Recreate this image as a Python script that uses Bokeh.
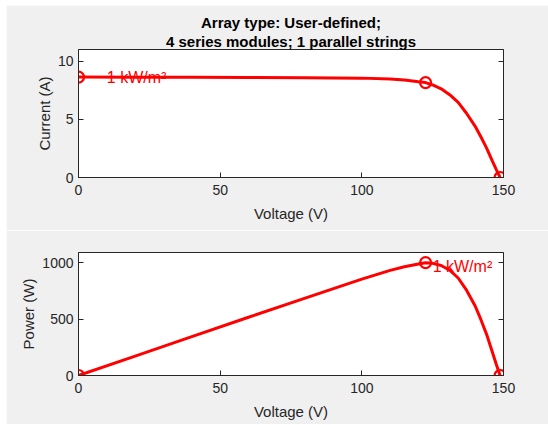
from bokeh.plotting import figure
from bokeh.layouts import column
from bokeh.models import LinearAxis, FixedTicker, Range1d, CustomJSTickFormatter, Title
from bokeh.core.properties import value
from bokeh.embed import file_html
from bokeh.resources import INLINE

# ---- data ----
voltage = [0, 20, 40, 60, 80, 100, 110, 115, 120, 122.5, 125, 128, 131, 134,
           137, 140, 142, 144, 146, 147.5, 148.8]
current = [8.63, 8.62, 8.61, 8.60, 8.58, 8.54, 8.47, 8.38, 8.23, 8.16, 7.95,
           7.62, 7.12, 6.45, 5.50, 4.40, 3.50, 2.55, 1.45, 0.65, 0.0]
power = [0, 172, 344, 516, 686, 854, 932, 964, 988, 1000, 994, 975, 933, 864,
         754, 616, 497, 367, 212, 96, 0]
key_v = [0, 122.5, 148.8]
key_i = [8.63, 8.16, 0.0]
key_p = [0, 1000, 0]
irr_label = ["1 kW/m²"]
x_ticks = [0, 50, 100, 150]
i_ticks = [0, 5, 10]
p_ticks = [0, 500, 1000]
title_lines = ["Array type: User-defined;", "4 series modules; 1 parallel strings"]

FONT = "Liberation Sans"
AX = "#262626"
RED = "#ff0000"


def style_axis(ax, ticks, show_labels=True):
    ax.ticker = FixedTicker(ticks=ticks)
    ax.axis_line_color = AX
    ax.major_tick_line_color = AX
    ax.major_tick_in = 5
    ax.major_tick_out = 0
    ax.minor_tick_line_color = None
    ax.major_label_text_font = FONT
    ax.major_label_text_font_size = "14px"
    ax.major_label_text_color = AX
    ax.axis_label_text_font = FONT
    ax.axis_label_text_font_size = "15px"
    ax.axis_label_text_font_style = "normal"
    ax.axis_label_text_color = AX
    if not show_labels:
        ax.formatter = CustomJSTickFormatter(code="return ''")


def make_fig(height, top, bottom, yrange, yticks, ylabel):
    p = figure(width=542, height=height, x_range=Range1d(0, 150),
               y_range=Range1d(*yrange), output_backend="svg",
               toolbar_location=None, min_border_left=72, min_border_right=45,
               min_border_top=top, min_border_bottom=bottom,
               background_fill_color="white", border_fill_color="#f0f0f0")
    p.grid.visible = False
    p.outline_line_color = AX
    style_axis(p.xaxis[0], x_ticks)
    style_axis(p.yaxis[0], yticks)
    p.xaxis.axis_label = "Voltage (V)"
    p.yaxis.axis_label = ylabel
    p.xaxis.major_label_standoff = 7
    p.xaxis.axis_label_standoff = 7
    p.yaxis.major_label_standoff = 5
    p.yaxis.axis_label_standoff = 2
    ra = LinearAxis()
    style_axis(ra, yticks, show_labels=False)
    p.add_layout(ra, "right")
    return p


p1 = make_fig(225, 44, 53, (0, 11), i_ticks, "Current (A)")
p1.title = None
# second line first: titles added later sit further from the plot
for line in reversed(title_lines):
    t = Title(text=line, align="center", text_font=FONT,
              text_font_size="15px", text_font_style="bold",
              text_color="black", standoff=0, offset=0)
    p1.add_layout(t, "above")
p1.line(voltage, current, line_color=RED, line_width=3)
p1.scatter(key_v, key_i, marker="circle", size=11, fill_color=None,
           line_color=RED, line_width=2.2)
p1.text(x=[10], y=[key_i[0]], text=irr_label, text_color=RED,
        text_font=value(FONT), text_font_size="16px",
        text_baseline="middle", text_align="left")

p2 = make_fig(194, 22, 49, (0, 1090), p_ticks, "Power (W)")
p2.line(voltage, power, line_color=RED, line_width=3)
p2.scatter(key_v, key_p, marker="circle", size=11, fill_color=None,
           line_color=RED, line_width=2.2)
p2.text(x=[125], y=[key_p[1]], text=irr_label, text_color=RED,
        text_font=value(FONT), text_font_size="16px",
        text_baseline="middle", text_align="left", y_offset=4)

layout = column(p1, p2, spacing=0, margin=(5, 0, 0, 6))
open("out.html", "w").write(file_html(layout, INLINE))
